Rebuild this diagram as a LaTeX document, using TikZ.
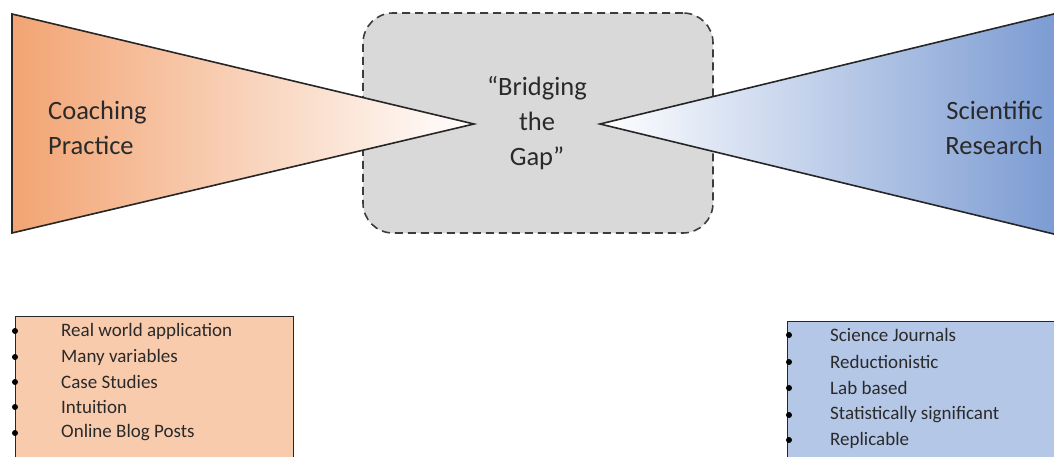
\documentclass[tikz,border=0pt]{standalone}
\usepackage{fontspec}
\setmainfont{Carlito}
\definecolor{orangeA}{HTML}{F2A473}
\definecolor{orangeL}{HTML}{F8CBAD}
\definecolor{blueA}{HTML}{7A9AD2}
\definecolor{blueL}{HTML}{B4C7E7}
\definecolor{grayF}{HTML}{D9D9D9}
\definecolor{txt}{HTML}{2A2A2A}
\definecolor{edge}{HTML}{262626}
\begin{document}
\begin{tikzpicture}[x=1pt,y=-1pt,
  bigtext/.style={font=\fontsize{26.5}{35}\selectfont, text=txt, inner sep=0},
  listtext/.style={font=\fontsize{19}{24}\selectfont, text=txt, inner sep=0, anchor=west},
  bul/.style={circle, fill=black, inner sep=0, minimum size=6},
  tri/.style={draw=edge, line width=1.6},
  listbox/.style={draw=edge, line width=1.4, anchor=north west, minimum width=278, minimum height=200}]
\useasboundingbox (0,0) rectangle (1054,457);
\begin{scope}
\clip (0,0) rectangle (1054,457);
% central gap box
\node[draw=edge!90, fill=grayF, dashed, dash pattern=on 8pt off 5pt, line width=1.6, rounded corners=30, minimum width=350, minimum height=220] (gap) at (538,123) {};
% triangles
\shadedraw[tri, left color=orangeA, right color=white] (12,14) -- (474,124) -- (12,233) -- cycle;
\shadedraw[tri, left color=white, right color=blueA] (600,124) -- (1062,12) -- (1062,236) -- cycle;
\node[bigtext, align=left, anchor=west] (coach) at (48,128) {Coaching\\Practice};
\node[bigtext, align=right, anchor=east] (sci) at (1043,128) {Scientific\\Research};
\node[bigtext, align=center] (bridge) at (537,123) {“Bridging\\the\\Gap”};
% list boxes
\node[listbox, fill=orangeL] (lbox) at (15,316) {};
\node[listbox, fill=blueL] (rbox) at (787,321) {};
\foreach \y/\t [count=\i] in {331/Real world application, 357/Many variables, 382/Case Studies, 407/Intuition, 433/Online Blog Posts}{
  \node[bul] (lb\i) at (15,\y) {};
  \node[listtext] (lt\i) at (61,\y) {\t};
}
\foreach \y/\t [count=\i] in {335/Science Journals, 362/Reductionistic, 388/Lab based, 415/Statistically significant, 440/Replicable}{
  \node[bul] (rb\i) at (789,\y) {};
  \node[listtext] (rt\i) at (830,\y) {\t};
}
\end{scope}
\end{tikzpicture}
\end{document}
